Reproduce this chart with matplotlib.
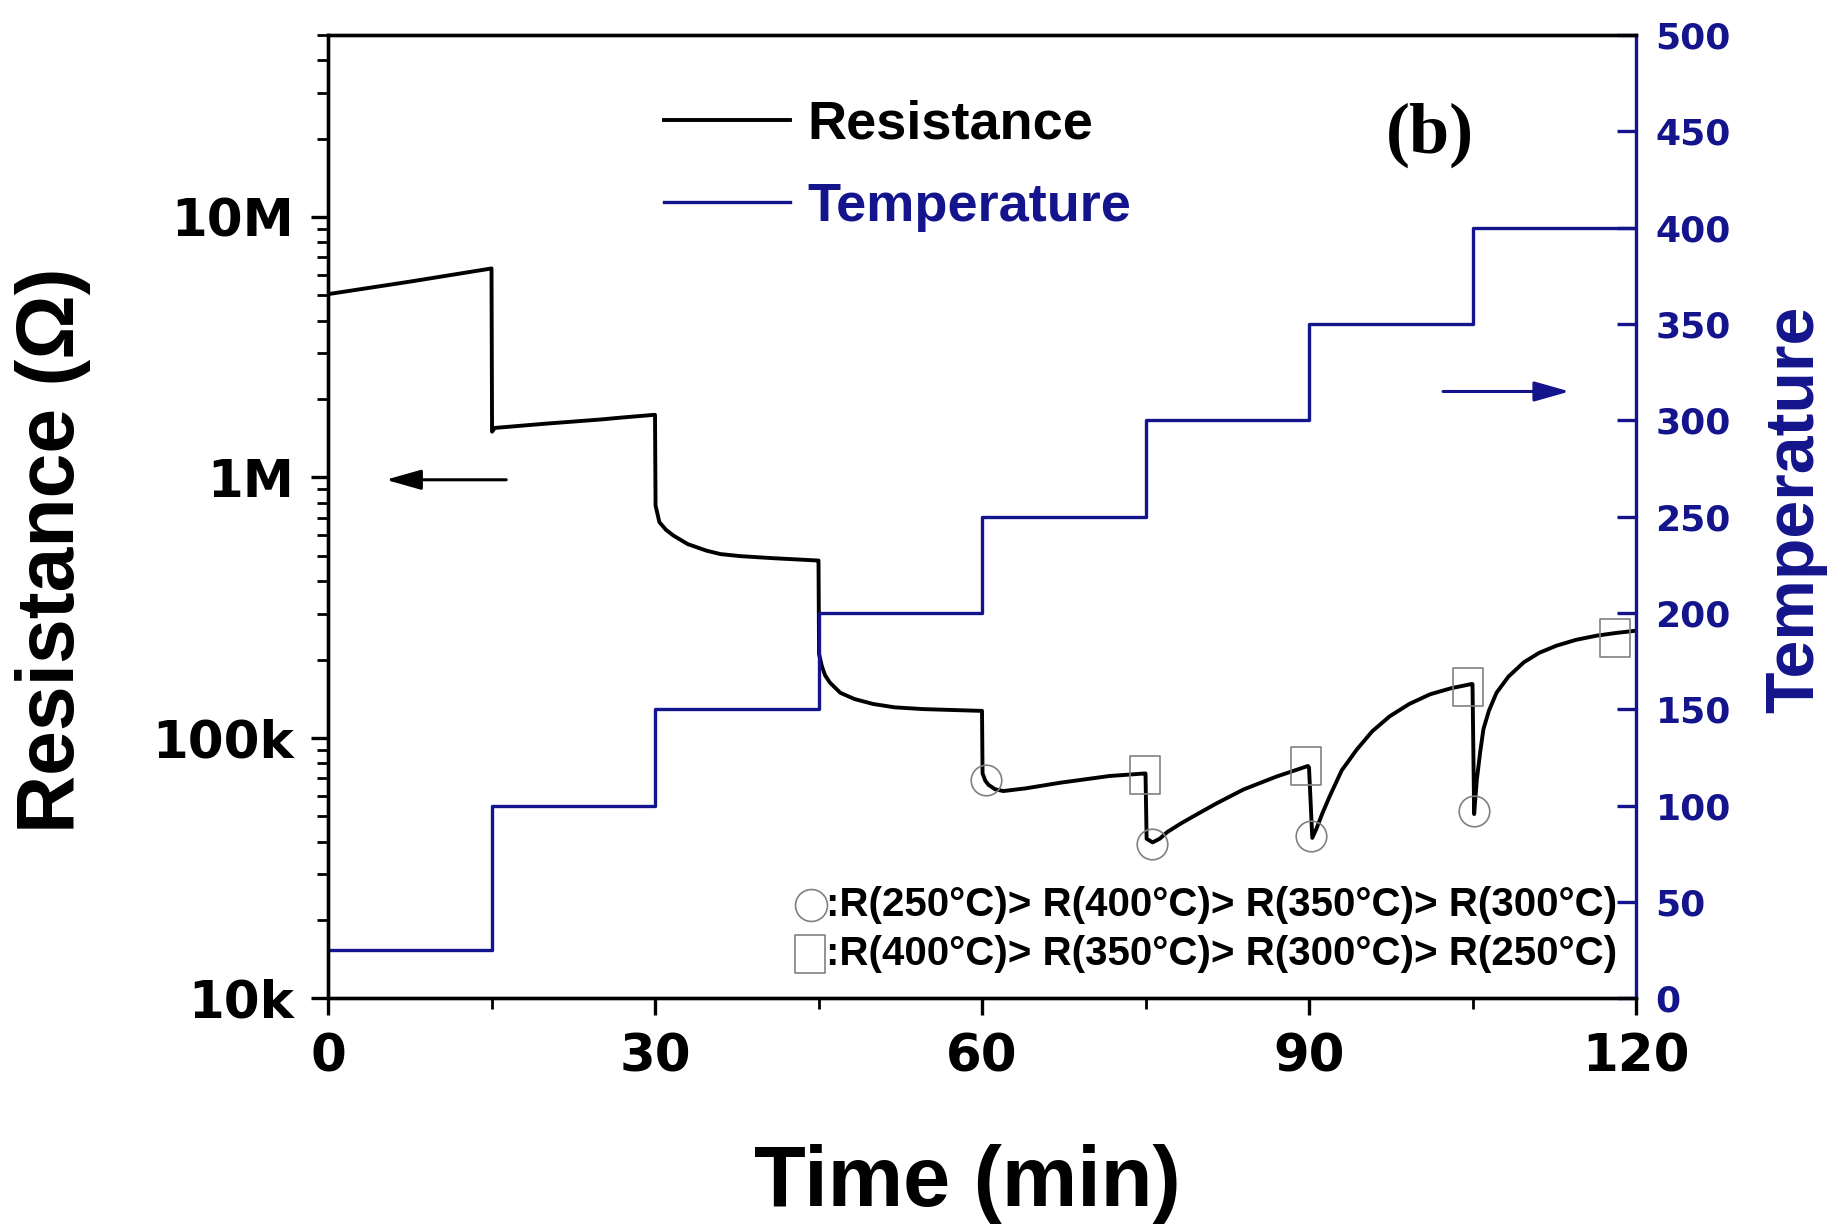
import matplotlib
matplotlib.use("Agg")
import matplotlib.pyplot as plt
from matplotlib.path import Path
from matplotlib.ticker import FixedLocator, NullFormatter

# ---------------- data ----------------
time_min = [0, 7.5, 15, 15.05, 15.3, 20, 25, 27, 29.9,
            30.0, 30.05, 30.4, 31.0, 31.7, 33.0, 34.7, 36.0, 37.8, 40.8, 44.9,
            45.0, 45.05, 45.3, 45.6, 46.05, 47, 48.3, 50, 52, 54.6, 59.9,
            60.0, 60.05, 60.3, 60.6, 61.2, 61.95, 64, 67.2, 71.7, 74.9,
            75.0, 75.1, 75.65, 76.3, 77, 78.2, 79.4, 81.5, 84.0, 87, 89.9,
            90.0, 90.3, 90.7, 91.2, 91.9, 93.0, 94.4, 95.8, 97.4, 99.2, 101.1, 103.0, 104.9,
            105.0, 105.15, 105.25, 105.4, 105.7, 106.0, 106.5, 107.2, 108.3, 109.7,
            111.1, 112.7, 114.5, 116.4, 118.2, 120]
resistance = [5.06e6, 5.65e6, 6.35e6, 1.50e6, 1.55e6, 1.61e6, 1.67e6, 1.70e6, 1.74e6,
              1.74e6, 7.8e5, 6.74e5, 6.3e5, 5.98e5, 5.55e5, 5.24e5, 5.08e5, 4.99e5, 4.90e5, 4.80e5,
              4.80e5, 2.10e5, 1.89e5, 1.74e5, 1.63e5, 1.49e5, 1.41e5, 1.35e5, 1.31e5, 1.29e5, 1.27e5,
              1.27e5, 7.3e4, 6.85e4, 6.6e4, 6.35e4, 6.25e4, 6.4e4, 6.73e4, 7.14e4, 7.3e4,
              7.3e4, 4.1e4, 3.97e4, 4.1e4, 4.35e4, 4.68e4, 5.0e4, 5.6e4, 6.34e4, 7.1e4, 7.8e4,
              7.7e4, 4.13e4, 4.5e4, 5.1e4, 5.97e4, 7.5e4, 9.04e4, 1.06e5, 1.21e5, 1.35e5, 1.47e5, 1.55e5, 1.61e5,
              1.61e5, 5.1e4, 5.8e4, 6.93e4, 8.8e4, 1.08e5, 1.27e5, 1.49e5, 1.72e5, 1.95e5,
              2.12e5, 2.26e5, 2.38e5, 2.47e5, 2.53e5, 2.58e5]

temp_time = [0, 15, 30, 45, 60, 75, 90, 105, 120]
temperature = [25, 100, 150, 200, 250, 300, 350, 400, 400]

circle_time = [60.4, 75.6, 90.2, 105.1]
circle_res = [6.9e4, 3.93e4, 4.2e4, 5.25e4]
square_time = [74.95, 89.7, 104.6, 118.1]
square_res = [7.2e4, 7.8e4, 1.57e5, 2.42e5]

x_ticks = [0, 30, 60, 90, 120]
x_minor = [15, 45, 75, 105]
r_ticks = [1e4, 1e5, 1e6, 1e7]
r_tick_labels = ["10k", "100k", "1M", "10M"]
t_ticks = [0, 50, 100, 150, 200, 250, 300, 350, 400, 450, 500]

NAVY = "#14148c"
GRAY = "#808080"
SANS = ["Liberation Sans", "DejaVu Sans"]
TICKF = ["DejaVu Sans"]

fig = plt.figure(figsize=(18.35, 12.24), dpi=100)
ax = fig.add_axes([0.17875, 0.1844, 0.71281, 0.78693])
ax2 = ax.twinx()

# resistance
ax.plot(time_min, resistance, color="black", lw=2.8, label="Resistance", zorder=3)
ax.set_yscale("log")
ax.set_ylim(1e4, 5e7)
ax.set_xlim(0, 120)

# markers
rect = Path([(-0.78, -1), (0.78, -1), (0.78, 1), (-0.78, 1), (-0.78, -1)],
            [Path.MOVETO, Path.LINETO, Path.LINETO, Path.LINETO, Path.CLOSEPOLY])
ax.plot(circle_time, circle_res, ls="none", marker="o", ms=22, mfc="none",
        mec=GRAY, mew=1.2, zorder=4)
ax.plot(square_time, square_res, ls="none", marker=rect, ms=27, mfc="none",
        mec=GRAY, mew=1.2, zorder=4)

# temperature
ax2.step(temp_time, temperature, where="post", color=NAVY, lw=2.4, label="Temperature")
ax2.set_ylim(0, 500)

# ticks
ax.xaxis.set_major_locator(FixedLocator(x_ticks))
ax.xaxis.set_minor_locator(FixedLocator(x_minor))
ax.yaxis.set_major_locator(FixedLocator(r_ticks))
ax.set_yticklabels(r_tick_labels)
ax.yaxis.set_minor_formatter(NullFormatter())
ax.tick_params(axis="both", which="major", direction="out", length=12.5, width=2.4,
               labelsize=37, pad=12)
ax.tick_params(axis="both", which="minor", direction="out", length=8, width=2.0)
ax.tick_params(axis="x", which="both", top=False)
for lab in ax.get_xticklabels() + ax.get_yticklabels():
    lab.set_family(TICKF)
    lab.set_fontweight("bold")

ax2.yaxis.set_major_locator(FixedLocator(t_ticks))
ax2.tick_params(axis="y", which="major", direction="in", length=14, width=2.4,
                labelsize=26, pad=14, colors=NAVY)
ax2.tick_params(axis="y", which="minor", right=False)
for lab in ax2.get_yticklabels():
    lab.set_family(TICKF)
    lab.set_fontweight("bold")

for sp in ["left", "bottom", "top"]:
    ax.spines[sp].set_linewidth(2.4)
    ax2.spines[sp].set_linewidth(2.4)
ax2.spines["right"].set_linewidth(2.4)
ax2.spines["right"].set_color(NAVY)
ax.spines["right"].set_visible(False)

# axis labels
ax.set_ylabel("Resistance (\u03a9)", fontsize=58, fontweight="bold", family=SANS)
ax.yaxis.label.set_va("center")
ax.yaxis.set_label_coords(-0.210, 0.465)
ax.set_xlabel("Time (min)", fontsize=61, fontweight="bold", family=SANS)
ax.xaxis.label.set_va("center")
ax.xaxis.set_label_coords(0.4885, -0.193)
ax2.set_ylabel("Temperature", fontsize=49, fontweight="bold", family=SANS, color=NAVY)
ax2.yaxis.label.set_va("center")
ax2.yaxis.set_label_coords(1.122, 0.508)

# legend
h1, l1 = ax.get_legend_handles_labels()
h2, l2 = ax2.get_legend_handles_labels()
leg = ax2.legend(h1 + h2, l1 + l2, loc="upper left", bbox_to_anchor=(0.2566, 0.933),
                 frameon=False, handlelength=2.33, handletextpad=0.32,
                 labelspacing=0.59, borderpad=0, borderaxespad=0,
                 prop={"family": SANS, "weight": "bold", "size": 39})
leg.get_texts()[1].set_color(NAVY)

# panel label
ax2.text(0.8425, 0.896, "(b)", transform=ax2.transAxes, ha="center", va="center",
         fontsize=52, fontweight="bold", family=["Liberation Serif", "DejaVu Serif"])

# arrows
ax.annotate("", xy=(5.3, 9.8e5), xytext=(16.35, 9.8e5),
            arrowprops=dict(arrowstyle="-|>,head_length=0.6,head_width=0.17",
                            mutation_scale=36, lw=2.2, color="black",
                            shrinkA=0, shrinkB=0))
ax2.annotate("", xy=(113.9, 315), xytext=(102.3, 315),
             arrowprops=dict(arrowstyle="-|>,head_length=0.6,head_width=0.17",
                             mutation_scale=36, lw=2.2, color=NAVY,
                             shrinkA=0, shrinkB=0))

# annotation of orders
ax2.plot([0.369], [0.0969], transform=ax2.transAxes, marker="o", ms=23, mfc="none",
         mec=GRAY, mew=1.2, ls="none", clip_on=False)
ax2.plot([0.3685], [0.046], transform=ax2.transAxes, marker=rect, ms=28, mfc="none",
         mec=GRAY, mew=1.2, ls="none", clip_on=False)
ax2.text(0.381, 0.0969, ":R(250\u00b0C)> R(400\u00b0C)> R(350\u00b0C)> R(300\u00b0C)",
         transform=ax2.transAxes, ha="left", va="center", fontsize=29,
         fontweight="bold", family=SANS)
ax2.text(0.381, 0.046, ":R(400\u00b0C)> R(350\u00b0C)> R(300\u00b0C)> R(250\u00b0C)",
         transform=ax2.transAxes, ha="left", va="center", fontsize=29,
         fontweight="bold", family=SANS)

fig.savefig("out.png", dpi=100)
